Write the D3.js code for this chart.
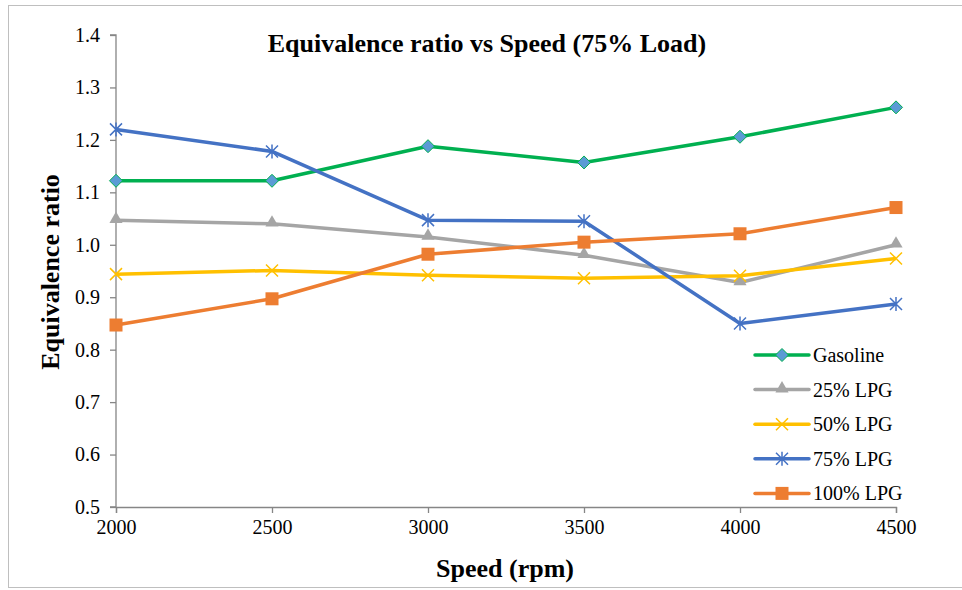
<!DOCTYPE html>
<html>
<head>
<meta charset="utf-8">
<script src="https://cdn.jsdelivr.net/npm/d3@7"></script>
<style>
  body { margin: 0; background: #fff; }
  svg text { font-family: "Times New Roman", "Liberation Serif", Times, "DejaVu Serif", serif !important; fill: #000; }
</style>
</head>
<body>
<div class="chart"></div>
<script>
// data
var speeds = [2000, 2500, 3000, 3500, 4000, 4500];
var gasoline = [1.122, 1.122, 1.188, 1.157, 1.206, 1.262];
var lpg25 = [1.047, 1.040, 1.015, 0.980, 0.928, 1.000];
var lpg50 = [0.944, 0.951, 0.942, 0.936, 0.941, 0.974];
var lpg75 = [1.220, 1.178, 1.047, 1.045, 0.850, 0.887];
var lpg100 = [0.847, 0.897, 0.982, 1.005, 1.021, 1.071];
var yTicks = [0.5, 0.6, 0.7, 0.8, 0.9, 1.0, 1.1, 1.2, 1.3, 1.4];
var seriesNames = ["Gasoline", "25% LPG", "50% LPG", "75% LPG", "100% LPG"];

var series = [
  { name: seriesNames[0], values: gasoline, color: "#00B050", marker: "diamond" },
  { name: seriesNames[1], values: lpg25, color: "#A5A5A5", marker: "triangle" },
  { name: seriesNames[2], values: lpg50, color: "#FFC000", marker: "cross" },
  { name: seriesNames[3], values: lpg75, color: "#4472C4", marker: "star" },
  { name: seriesNames[4], values: lpg100, color: "#ED7D31", marker: "square" }
];

var W = 962, H = 590;
var margin = { left: 116, right: 66, top: 35, bottom: 83 };
var serif = '"Times New Roman", "Liberation Serif", Times, serif';

var svg = d3.select(".chart").append("svg")
  .attr("width", W)
  .attr("height", H);

// outer chart frame
svg.append("rect")
  .attr("x", 8.5).attr("y", 5.5)
  .attr("width", 970).attr("height", 582)
  .style("fill", "none")
  .style("stroke", "#BFBFBF")
  .style("stroke-width", 1);

var x = d3.scaleLinear().domain([2000, 4500]).range([margin.left, W - margin.right]);
var y = d3.scaleLinear().domain([0.5, 1.4]).range([H - margin.bottom, margin.top]);

// axes
var xAxis = d3.axisBottom(x).tickValues(speeds).tickSize(6).tickPadding(7)
  .tickFormat(function(d) { return d; });
var yAxis = d3.axisLeft(y).tickValues(yTicks).tickSize(6).tickPadding(10)
  .tickFormat(d3.format(".1f"));

var gx = svg.append("g")
  .attr("transform", "translate(0," + y(0.5) + ")")
  .call(xAxis);
var gy = svg.append("g")
  .attr("transform", "translate(" + x(2000) + ",0)")
  .call(yAxis);

[gx, gy].forEach(function(g) {
  g.attr("font-family", serif).attr("font-size", 20);
  g.select(".domain").style("stroke", "#868686").style("stroke-width", 1.3);
  g.selectAll(".tick line").style("stroke", "#868686").style("stroke-width", 1.3);
  g.selectAll(".tick text")
    .style("font-size", "20px")
    .style("fill", "#000");
});
gy.select(".domain").attr("d", "M-6," + y(1.4) + "H0V" + y(0.5) + "H-6");

// titles
svg.append("text")
  .attr("x", 487).attr("y", 52)
  .attr("text-anchor", "middle")
  .style("font-size", "26px").style("font-weight", "bold")
  .text("Equivalence ratio vs Speed (75% Load)");

svg.append("text")
  .attr("x", 505).attr("y", 577)
  .attr("text-anchor", "middle")
  .style("font-size", "26px").style("font-weight", "bold")
  .text("Speed (rpm)");

svg.append("text")
  .attr("transform", "translate(59,272) rotate(-90)")
  .attr("text-anchor", "middle")
  .style("font-size", "26px").style("font-weight", "bold")
  .text("Equivalence ratio");

// markers
function drawMarker(g, type, color) {
  if (type == "diamond") {
    g.append("path").attr("d", "M0,-6.5L6.5,0L0,6.5L-6.5,0Z")
      .style("fill", "#5B9BD5").style("stroke", color).style("stroke-width", 1);
  } else if (type == "triangle") {
    g.append("path").attr("d", d3.symbol().type(d3.symbolTriangle).size(75)())
      .attr("transform", "translate(0,-1)")
      .style("fill", color);
  } else if (type == "square") {
    g.append("rect").attr("x", -6.5).attr("y", -6.5).attr("width", 13).attr("height", 13)
      .style("fill", color);
  } else if (type == "cross") {
    g.append("path").attr("d", "M-6,-6L6,6M-6,6L6,-6")
      .style("stroke", color).style("stroke-width", 1.5).style("fill", "none");
  } else if (type == "star") {
    g.append("path").attr("d", "M-6,-6L6,6M-6,6L6,-6M0,-7V7")
      .style("stroke", color).style("stroke-width", 1.5).style("fill", "none");
  }
}

var line = d3.line()
  .x(function(d, i) { return x(speeds[i]); })
  .y(function(d) { return y(d); });

series.forEach(function(s) {
  var g = svg.append("g");
  g.append("path")
    .datum(s.values)
    .attr("d", line)
    .style("fill", "none")
    .style("stroke", s.color)
    .style("stroke-width", 3.5)
    .style("stroke-linejoin", "round");
  s.values.forEach(function(v, i) {
    var m = g.append("g").attr("transform", "translate(" + x(speeds[i]) + "," + y(v) + ")");
    drawMarker(m, s.marker, s.color);
  });
});

// legend
var legend = svg.append("g").attr("transform", "translate(755,355)");
series.forEach(function(s, i) {
  var row = legend.append("g").attr("transform", "translate(0," + (i * 34.6) + ")");
  row.append("line")
    .attr("x1", 0).attr("x2", 54).attr("y1", 0).attr("y2", 0)
    .style("stroke", s.color).style("stroke-width", 3.5)
    .style("stroke-linecap", "round");
  var m = row.append("g").attr("transform", "translate(27,0)");
  drawMarker(m, s.marker, s.color);
  row.append("text")
    .attr("x", 58).attr("y", 7)
    .style("font-size", "20px")
    .text(s.name);
});
</script>
</body>
</html>
